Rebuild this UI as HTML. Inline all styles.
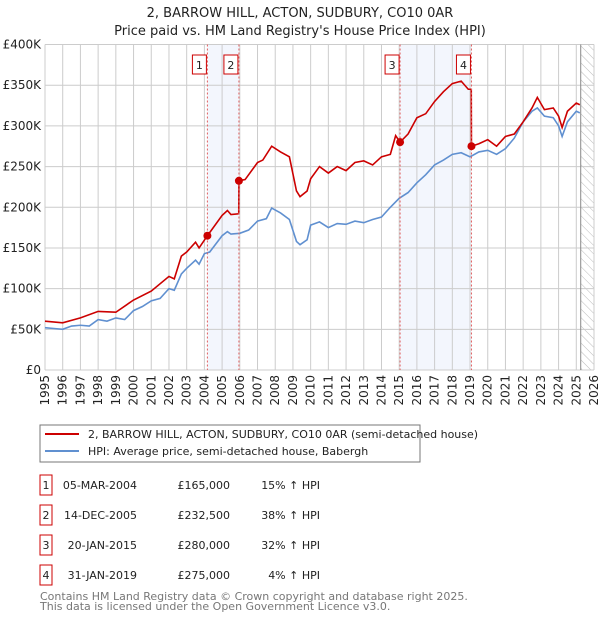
<!DOCTYPE html>
<html><head><meta charset="utf-8"><style>
body{margin:0;background:#fff;font-family:"DejaVu Sans","Liberation Sans",sans-serif;}
svg text{font-family:"DejaVu Sans","Liberation Sans",sans-serif;}
</style></head><body>
<svg id="chart" width="600" height="620" viewBox="0 0 600 620">
<defs><pattern id="hatch" width="6" height="6" patternUnits="userSpaceOnUse" patternTransform="rotate(-45)"><line x1="0" y1="0" x2="0" y2="6" stroke="#bbb" stroke-width="1"/></pattern></defs>
<text x="300" y="17" text-anchor="middle" font-size="13" fill="#222">2, BARROW HILL, ACTON, SUDBURY, CO10 0AR</text>
<text x="300" y="35" text-anchor="middle" font-size="13" fill="#222">Price paid vs. HM Land Registry's House Price Index (HPI)</text>
<g id="bands"></g><g id="grid"></g><g id="series"></g><g id="marks"></g><g id="axes"></g>
<g>
<rect x="40" y="425" width="380" height="37" fill="#fff" stroke="#777"/>
<line x1="45" y1="434" x2="79" y2="434" stroke="#cc0000" stroke-width="2"/>
<text x="88" y="438" font-size="11" fill="#222">2, BARROW HILL, ACTON, SUDBURY, CO10 0AR (semi-detached house)</text>
<line x1="45" y1="451" x2="79" y2="451" stroke="#6090d0" stroke-width="2"/>
<text x="88" y="455" font-size="11" fill="#222">HPI: Average price, semi-detached house, Babergh</text>
</g>
<g id="table"></g>
<text x="40" y="600" font-size="11" fill="#777">Contains HM Land Registry data © Crown copyright and database right 2025.</text>
<text x="40" y="610" font-size="11" fill="#777">This data is licensed under the Open Government Licence v3.0.</text>
</svg>
<script>
const yTicks=[0,50,100,150,200,250,300,350,400];
const yTickLabels=["£0","£50K","£100K","£150K","£200K","£250K","£300K","£350K","£400K"];
const xYears=[1995,1996,1997,1998,1999,2000,2001,2002,2003,2004,2005,2006,2007,2008,2009,2010,2011,2012,2013,2014,2015,2016,2017,2018,2019,2020,2021,2022,2023,2024,2025,2026];
const hpiT=[1995,1995.5,1996,1996.5,1997,1997.5,1998,1998.5,1999,1999.5,2000,2000.5,2001,2001.5,2002,2002.3,2002.7,2003,2003.5,2003.7,2004,2004.3,2005,2005.3,2005.5,2006,2006.5,2007,2007.5,2007.8,2008.3,2008.8,2009.2,2009.4,2009.8,2010,2010.5,2011,2011.5,2012,2012.5,2013,2013.5,2014,2014.5,2015,2015.5,2016,2016.5,2017,2017.5,2018,2018.5,2019,2019.5,2020,2020.5,2021,2021.5,2022,2022.5,2022.8,2023.2,2023.7,2024,2024.2,2024.5,2025,2025.2];
const hpiV=[52,51,50,54,55,54,62,60,64,62,73,78,85,88,100,98,118,125,135,130,143,145,165,170,167,168,172,183,186,199,193,185,158,154,160,178,182,175,180,179,183,181,185,188,200,211,218,230,240,252,258,265,267,262,268,270,265,272,285,305,318,322,312,310,300,287,305,318,316];
const priceT=[1995,1996,1997,1998,1999,2000,2001,2002,2002.3,2002.7,2003,2003.5,2003.7,2004.17,2005,2005.3,2005.5,2005.94,2005.95,2006.3,2007,2007.3,2007.8,2008.3,2008.8,2009.2,2009.4,2009.8,2010,2010.5,2011,2011.5,2012,2012.5,2013,2013.5,2014,2014.5,2014.8,2015.05,2015.5,2016,2016.5,2017,2017.5,2018,2018.5,2018.9,2019.07,2019.08,2019.5,2020,2020.5,2021,2021.5,2022,2022.5,2022.8,2023.2,2023.7,2024,2024.2,2024.5,2025,2025.2];
const priceV=[60,58,64,72,71,86,97,115,112,140,145,157,150,165,190,196,191,192,232.5,234,255,258,275,268,262,220,213,220,235,250,242,250,245,255,257,252,262,265,288,280,290,310,315,330,342,352,355,345,345,275,278,283,275,287,290,305,322,335,320,322,312,298,318,328,326];
const saleT=[2004.17,2005.95,2015.05,2019.08];
const saleV=[165,232.5,280,275];
const saleDates=["05-MAR-2004","14-DEC-2005","20-JAN-2015","31-JAN-2019"];
const salePrices=["£165,000","£232,500","£280,000","£275,000"];
const saleHpi=["15% ↑ HPI","38% ↑ HPI","32% ↑ HPI","4% ↑ HPI"];
const NS="http://www.w3.org/2000/svg";
const X0=45,X1=594,Y0=370,Y1=44.5;
const xs=t=>X0+(t-1995)/(2026-1995)*(X1-X0);
const ys=v=>Y0-v/400*(Y0-Y1);
function mk(tag,attrs,parent){const e=document.createElementNS(NS,tag);for(const k in attrs)e.setAttribute(k,attrs[k]);parent.appendChild(e);return e;}
const bands=document.getElementById('bands'),grid=document.getElementById('grid'),series=document.getElementById('series'),marks=document.getElementById('marks'),axes=document.getElementById('axes'),table=document.getElementById('table');
[[0,1],[2,3]].forEach((p,i)=>{
 const r=mk('rect',{x:xs(saleT[p[0]]),y:Y1,width:xs(saleT[p[1]])-xs(saleT[p[0]]),height:Y0-Y1,fill:'#f3f6fd'},bands);
 
 
});
const h=mk('rect',{x:xs(2025.25),y:Y1,width:X1-xs(2025.25),height:Y0-Y1,fill:'url(#hatch)'},bands);


yTicks.forEach((v,i)=>{
 const l=mk('line',{x1:X0,x2:X1,y1:ys(v),y2:ys(v),stroke:'#cccccc','stroke-width':1},grid);
 
 
 const t=mk('text',{x:X0-4,y:ys(v)+4,'text-anchor':'end','font-size':12,fill:'#222'},axes);
 t.textContent=yTickLabels[i];
 
 
});
xYears.forEach(yr=>{
 const l=mk('line',{x1:xs(yr),x2:xs(yr),y1:Y1,y2:Y0,stroke:'#cccccc','stroke-width':1},grid);
 
 
 const t=mk('text',{x:0,y:0,'text-anchor':'end','font-size':12,fill:'#222',transform:`translate(${xs(yr)+4},375) rotate(-90)`},axes);
 t.textContent=yr;
 
 
});
const vl=mk('line',{x1:xs(2025.25),x2:xs(2025.25),y1:Y1,y2:Y0,stroke:'#888','stroke-width':1},grid);


const hp=mk('polyline',{points:hpiT.map((t,i)=>xs(t)+','+ys(hpiV[i])).join(' '),fill:'none',stroke:'#6090d0','stroke-width':1.6},series);


const pp=mk('polyline',{points:priceT.map((t,i)=>xs(t)+','+ys(priceV[i])).join(' '),fill:'none',stroke:'#cc0000','stroke-width':1.6},series);


saleT.forEach((t,i)=>{
 const d=mk('line',{x1:xs(t),x2:xs(t),y1:Y1,y2:Y0,stroke:'#e06060','stroke-width':1,'stroke-dasharray':'2,2'},marks);
 
 
 const c=mk('circle',{cx:xs(t),cy:ys(saleV[i]),r:4,fill:'#cc0000'},marks);
 
 
 const b=mk('rect',{x:xs(t)-15,y:55,width:14,height:19,fill:'#fff',stroke:'#cc0000'},marks);
 
 
 const tx=mk('text',{x:xs(t)-8,y:69,'text-anchor':'middle','font-size':11,fill:'#222'},marks);
 tx.textContent=String(i+1);
 
 
 const ry=475+i*30;
 const rb=mk('rect',{x:40,y:ry,width:12,height:20,fill:'#fff',stroke:'#cc0000'},table);
 
 
 const rn=mk('text',{x:46,y:ry+14,'text-anchor':'middle','font-size':11,fill:'#222'},table);
 rn.textContent=String(i+1);
 
 
 const rd=mk('text',{x:137,y:ry+14,'text-anchor':'end','font-size':11,fill:'#222'},table);
 rd.textContent=saleDates[i];
 
 
 const rp=mk('text',{x:230,y:ry+14,'text-anchor':'end','font-size':11,fill:'#222'},table);
 rp.textContent=salePrices[i];
 
 
 const rh=mk('text',{x:320,y:ry+14,'text-anchor':'end','font-size':11,fill:'#222'},table);
 rh.textContent=saleHpi[i];
 
 
});
</script>
</body></html>
